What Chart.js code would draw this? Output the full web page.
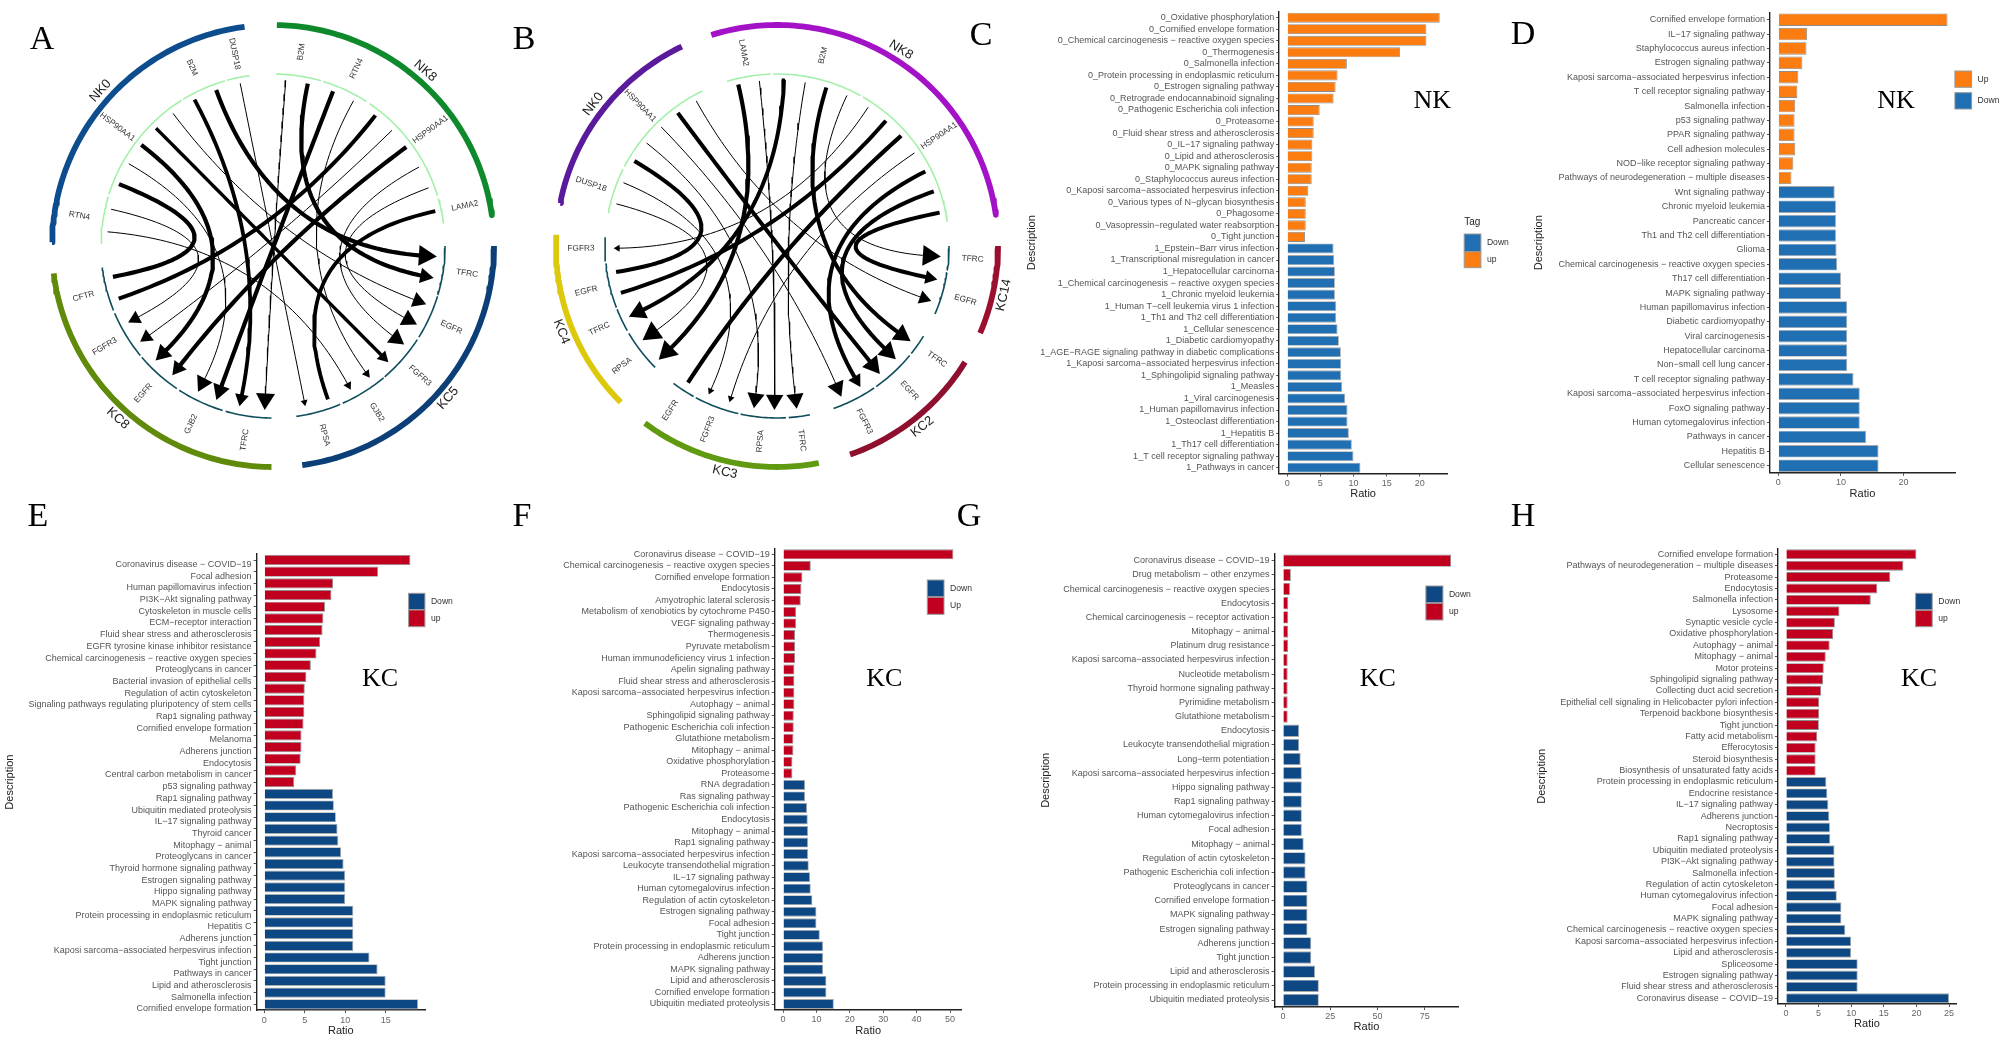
<!DOCTYPE html>
<html><head><meta charset="utf-8">
<script src="https://cdn.jsdelivr.net/npm/chart.js@4"></script>
<style>
html,body{margin:0;padding:0;background:#fff;width:2008px;height:1048px;overflow:hidden}
#page{position:absolute;left:0;top:0;width:2008px;height:1048px;filter:blur(0.45px)}
canvas{position:absolute;display:block}
.letter,.tag{position:absolute;font-family:"Liberation Serif",serif;color:#000;transform:translate(-50%,-50%);line-height:1;white-space:nowrap}
.letter{font-size:34px}.tag{font-size:26px}
</style></head><body><div id="page"></div>
<script>
// ---------- Panel C ----------
const cUpLabels=['0_Oxidative phosphorylation','0_Cornified envelope formation','0_Chemical carcinogenesis − reactive oxygen species','0_Thermogenesis','0_Salmonella infection','0_Protein processing in endoplasmic reticulum','0_Estrogen signaling pathway','0_Retrograde endocannabinoid signaling','0_Pathogenic Escherichia coli infection','0_Proteasome','0_Fluid shear stress and atherosclerosis','0_IL−17 signaling pathway','0_Lipid and atherosclerosis','0_MAPK signaling pathway','0_Staphylococcus aureus infection','0_Kaposi sarcoma−associated herpesvirus infection','0_Various types of N−glycan biosynthesis','0_Phagosome','0_Vasopressin−regulated water reabsorption','0_Tight junction'];
const cUpValues=[23,21,21,17,9,7.6,7.3,7,4.9,4,4,3.8,3.8,3.7,3.7,3.2,2.8,2.8,2.8,2.7];
const cDownLabels=['1_Epstein−Barr virus infection','1_Transcriptional misregulation in cancer','1_Hepatocellular carcinoma','1_Chemical carcinogenesis − reactive oxygen species','1_Chronic myeloid leukemia','1_Human T−cell leukemia virus 1 infection','1_Th1 and Th2 cell differentiation','1_Cellular senescence','1_Diabetic cardiomyopathy','1_AGE−RAGE signaling pathway in diabetic complications','1_Kaposi sarcoma−associated herpesvirus infection','1_Sphingolipid signaling pathway','1_Measles','1_Viral carcinogenesis','1_Human papillomavirus infection','1_Osteoclast differentiation','1_Hepatitis B','1_Th17 cell differentiation','1_T cell receptor signaling pathway','1_Pathways in cancer'];
const cDownValues=[7,7.1,7.2,7.2,7.2,7.4,7.4,7.6,7.8,8.1,8.15,8.15,8.3,8.75,9.1,9.1,9.3,9.75,10,11.05];
const cTicks=[0,5,10,15,20]; const cRange=[-1.2,24.1];
// ---------- Panel D ----------
const dUpLabels=['Cornified envelope formation','IL−17 signaling pathway','Staphylococcus aureus infection','Estrogen signaling pathway','Kaposi sarcoma−associated herpesvirus infection','T cell receptor signaling pathway','Salmonella infection','p53 signaling pathway','PPAR signaling pathway','Cell adhesion molecules','NOD−like receptor signaling pathway','Pathways of neurodegeneration − multiple diseases'];
const dUpValues=[27,4.6,4.5,3.85,3.2,3.05,2.7,2.6,2.6,2.7,2.4,2.1];
const dDownLabels=['Wnt signaling pathway','Chronic myeloid leukemia','Pancreatic cancer','Th1 and Th2 cell differentiation','Glioma','Chemical carcinogenesis − reactive oxygen species','Th17 cell differentiation','MAPK signaling pathway','Human papillomavirus infection','Diabetic cardiomyopathy','Viral carcinogenesis','Hepatocellular carcinoma','Non−small cell lung cancer','T cell receptor signaling pathway','Kaposi sarcoma−associated herpesvirus infection','FoxO signaling pathway','Human cytomegalovirus infection','Pathways in cancer','Hepatitis B','Cellular senescence'];
const dDownValues=[9,9.2,9.2,9.2,9.3,9.4,10,10,11,11,11,11,11,12,13,13,13,14,16,16];
const dTicks=[0,10,20]; const dRange=[-1.34,28.2];
// ---------- Panel E ----------
const eUpLabels=['Coronavirus disease − COVID−19','Focal adhesion','Human papillomavirus infection','PI3K−Akt signaling pathway','Cytoskeleton in muscle cells','ECM−receptor interaction','Fluid shear stress and atherosclerosis','EGFR tyrosine kinase inhibitor resistance','Chemical carcinogenesis − reactive oxygen species','Proteoglycans in cancer','Bacterial invasion of epithelial cells','Regulation of actin cytoskeleton','Signaling pathways regulating pluripotency of stem cells','Rap1 signaling pathway','Cornified envelope formation','Melanoma','Adherens junction','Endocytosis','Central carbon metabolism in cancer','p53 signaling pathway'];
const eUpValues=[18.05,14.05,8.5,8.3,7.5,7.3,7.2,6.9,6.45,5.75,5.2,5,4.95,4.95,4.85,4.6,4.6,4.5,3.95,3.7];
const eDownLabels=['Rap1 signaling pathway','Ubiquitin mediated proteolysis','IL−17 signaling pathway','Thyroid cancer','Mitophagy − animal','Proteoglycans in cancer','Thyroid hormone signaling pathway','Estrogen signaling pathway','Hippo signaling pathway','MAPK signaling pathway','Protein processing in endoplasmic reticulum','Hepatitis C','Adherens junction','Kaposi sarcoma−associated herpesvirus infection','Tight junction','Pathways in cancer','Lipid and atherosclerosis','Salmonella infection','Cornified envelope formation'];
const eDownValues=[8.5,8.6,8.85,9.05,9.15,9.5,9.8,10,10,10,11,11,11,11,13,14,15,15,19];
const eTicks=[0,5,10,15]; const eRange=[-0.95,19.86];
// ---------- Panel F ----------
const fUpLabels=['Coronavirus disease − COVID−19','Chemical carcinogenesis − reactive oxygen species','Cornified envelope formation','Endocytosis','Amyotrophic lateral sclerosis','Metabolism of xenobiotics by cytochrome P450','VEGF signaling pathway','Thermogenesis','Pyruvate metabolism','Human immunodeficiency virus 1 infection','Apelin signaling pathway','Fluid shear stress and atherosclerosis','Kaposi sarcoma−associated herpesvirus infection','Autophagy − animal','Sphingolipid signaling pathway','Pathogenic Escherichia coli infection','Glutathione metabolism','Mitophagy − animal','Oxidative phosphorylation','Proteasome'];
const fUpValues=[51,8.3,5.8,5.5,5.3,3.9,3.9,3.6,3.6,3.6,3.4,3.4,3.4,3.4,3.2,3.2,3.1,3.1,2.8,2.8];
const fDownLabels=['RNA degradation','Ras signaling pathway','Pathogenic Escherichia coli infection','Endocytosis','Mitophagy − animal','Rap1 signaling pathway','Kaposi sarcoma−associated herpesvirus infection','Leukocyte transendothelial migration','IL−17 signaling pathway','Human cytomegalovirus infection','Regulation of actin cytoskeleton','Estrogen signaling pathway','Focal adhesion','Tight junction','Protein processing in endoplasmic reticulum','Adherens junction','MAPK signaling pathway','Lipid and atherosclerosis','Cornified envelope formation','Ubiquitin mediated proteolysis'];
const fDownValues=[6.6,6.6,7.2,7.4,7.5,7.5,7.5,7.7,8.1,8.3,8.8,10,10,11,12,12,12,13,13,15.2];
const fTicks=[0,10,20,30,40,50]; const fRange=[-2.5,53.5];
// ---------- Panel G ----------
const gUpLabels=['Coronavirus disease − COVID−19','Drug metabolism − other enzymes','Chemical carcinogenesis − reactive oxygen species','Endocytosis','Chemical carcinogenesis − receptor activation','Mitophagy − animal','Platinum drug resistance','Kaposi sarcoma−associated herpesvirus infection','Nucleotide metabolism','Thyroid hormone signaling pathway','Pyrimidine metabolism','Glutathione metabolism'];
const gUpValues=[89,4.2,3.7,2.8,2.8,2.8,2.7,2.5,2.5,2.5,2.5,2.5];
const gDownLabels=['Endocytosis','Leukocyte transendothelial migration','Long−term potentiation','Kaposi sarcoma−associated herpesvirus infection','Hippo signaling pathway','Rap1 signaling pathway','Human cytomegalovirus infection','Focal adhesion','Mitophagy − animal','Regulation of actin cytoskeleton','Pathogenic Escherichia coli infection','Proteoglycans in cancer','Cornified envelope formation','MAPK signaling pathway','Estrogen signaling pathway','Adherens junction','Tight junction','Lipid and atherosclerosis','Protein processing in endoplasmic reticulum','Ubiquitin mediated proteolysis'];
const gDownValues=[8.6,8.6,9.4,10,10,10,10,10,11,12,12,13,13,13,13,15,15,17,19,19];
const gTicks=[0,25,50,75]; const gRange=[-4.4,92.8];
// ---------- Panel H ----------
const hUpLabels=['Cornified envelope formation','Pathways of neurodegeneration − multiple diseases','Proteasome','Endocytosis','Salmonella infection','Lysosome','Synaptic vesicle cycle','Oxidative phosphorylation','Autophagy − animal','Mitophagy − animal','Motor proteins','Sphingolipid signaling pathway','Collecting duct acid secretion','Epithelial cell signaling in Helicobacter pylori infection','Terpenoid backbone biosynthesis','Tight junction','Fatty acid metabolism','Efferocytosis','Steroid biosynthesis','Biosynthesis of unsaturated fatty acids'];
const hUpValues=[20,18,16,14,13,8.2,7.5,7.25,6.7,6.1,5.8,5.7,5.4,5.1,5.1,5.05,4.8,4.55,4.55,4.55];
const hDownLabels=['Protein processing in endoplasmic reticulum','Endocrine resistance','IL−17 signaling pathway','Adherens junction','Necroptosis','Rap1 signaling pathway','Ubiquitin mediated proteolysis','PI3K−Akt signaling pathway','Salmonella infection','Regulation of actin cytoskeleton','Human cytomegalovirus infection','Focal adhesion','MAPK signaling pathway','Chemical carcinogenesis − reactive oxygen species','Kaposi sarcoma−associated herpesvirus infection','Lipid and atherosclerosis','Spliceosome','Estrogen signaling pathway','Fluid shear stress and atherosclerosis','Coronavirus disease − COVID−19'];
const hDownValues=[6.2,6.35,6.5,6.65,6.75,6.8,7.45,7.45,7.5,7.5,7.8,8.5,8.5,9.1,10,10,11,11,11,25];
const hTicks=[0,5,10,15,20,25]; const hRange=[-1.23,26.07];

// ---------- Panel A (angles in degrees, clockwise from 12 o'clock) ----------
const aSectorNames=['NK8','KC5','KC8','NK0'];
const aSectorStart=[1,90,180.4,271];
const aSectorEnd=[82,172.4,262.9,352.6];
const aSectorLabelAngle=[41,131,222,312];
const aSegmentStart=[1,17,34.1,74, 90,107,123,140,157, 180.5,197,214,230.5,248, 270.9,287.5,328.5,344.5];
const aSegmentEnd=[16.2,32.9,73,82.3, 106.4,122,139.5,156.1,172.2, 196,213,229.7,247,262.8, 286.7,327.9,343.8,352.2];
const aSegmentIsSource=[1,1,1,1, 0,0,0,0,0, 0,0,0,0,0, 1,1,1,1];
const aGeneNames=['DUSP18','B2M','HSP90AA1','RTN4','B2M','RTN4','HSP90AA1','LAMA2','TFRC','EGFR','FGFR3','GJB2','RPSA','TFRC','GJB2','EGFR','FGFR3','CFTR'];
const aGeneAngles=[348.7,335.6,307.4,278.9,8.3,25.2,53.5,78.2,98,114.5,131.4,148,164.7,188.3,204.7,221.4,239.2,255.1];
const aLinkFrom=[291.9,282.8,274.9,299.7,307.5,315.2,323,331.8,340,348.6,4.4,12.1,21.2,29,38.1,45.8,53.4,61.6,69.5,77.9];
const aLinkTo=[259.1,242.2,151.6,207.2,225.7,135.2,110.8,191.8,93.7,168.6,182.9,101.3,200.2,143.7,251.2,234.2,217.9,126.9,118.6,160.3];
const aLinkWeight=[4.2,1,1,1,4.2,3.4,1,3.8,4.2,1,1,4.2,4.2,1,4,1,4.2,1,1,3.8];
const aLinkHead=[0,8,5,10,10,7,9,8,12,4,11,9,10,5,0,8,9,10,10,0];

// ---------- Panel B ----------
const bSectorNames=['NK8','KC14','KC2','KC3','KC4','NK0'];
const bSectorStart=[342.7,90,121.7,169.1,225,281.2];
const bSectorEnd=[441.9,113.2,160.7,216.7,272.9,334.5];
const bSectorLabelAngle=[32.3,102.2,141.2,193,248.3,307.7];
const bSegmentStart=[281.2,297.5, 343.1,358.7,390, 90,99, 121.6,129.5,145.6, 169,177,193,209, 225.1,240.5,249,265];
const bSegmentEnd=[296.5,334.4, 357.8,389.1,441.9, 98,113.3, 128.7,144.8,160.8, 176.1,192.2,208.2,217, 239.5,248.4,264.2,272.9];
const bSegmentIsSource=[1,1, 1,1,1, 0,0, 0,0,0, 0,0,0,0, 0,0,0,0];
const bGeneNames=['DUSP18','HSP90AA1','LAMA2','B2M','HSP90AA1','TFRC','EGFR','TFRC','EGFR','FGFR3','TFRC','RPSA','FGFR3','EGFR','RPSA','TFRC','EGFR','FGFR3'];
const bGeneAngles=[288.4,315.7,350.2,13.6,55.8,93.8,106,125.3,137.5,153.5,172.7,184.9,200.7,213,232.3,245,256.7,269.3];
const bLinkFrom=[284.7,292.4,300.8,308.3,315.8,323.3,330.9,346.5,353.9,2.4,9.8,17.3,24.9,33.3,41,48.4,55.9,63.3,70.8,78.4];
const bLinkTo=[235,204.7,260.8,188.1,156.9,141.2,109.6,226.1,180.9,244.5,173.1,125.5,93.7,269.2,253.3,213.1,196.9,149.4,133.6,101.8];
const bLinkWeight=[1,1,4,1,1,4,1,4.2,1,4,1,4,1,1,4,4.2,1,4,4,4];
const bLinkHead=[12,4,0,10,10,11,8,12,10,11,10,11,12,4,0,0,4,8,11,8];

// ---------- Styles / layout ----------
const ORANGE='#fb7d12',BLUE='#1f6fb2',RED='#c10020',NAVY='#0e4884';
const SANS='"Liberation Sans",Arial,sans-serif';
const TICK_FONT=9;
const page=document.getElementById('page');
function addText(cls,t,x,y){const d=document.createElement('div');d.className=cls;d.textContent=t;d.style.left=x+'px';d.style.top=y+'px';page.appendChild(d);}
[['A',42,38],['B',524,38],['C',981,34],['D',1523,33],['E',38,515],['F',522,515],['G',969,515],['H',1523,515]].forEach(a=>addText('letter',a[0],a[1],a[2]));
[['NK',1432.3,100],['NK',1896,100],['KC',380,677.7],['KC',884.3,677.7],['KC',1377.7,677.7],['KC',1919,677.7]].forEach(a=>addText('tag',a[0],a[1],a[2]));
function newCanvas(l,t,w,h){const c=document.createElement('canvas');c.width=w;c.height=h;c.style.left=l+'px';c.style.top=t+'px';c.style.width=w+'px';c.style.height=h+'px';page.appendChild(c);return c;}

function barPanel(o){
  const labels=o.upLabels.concat(o.downLabels);
  const nU=o.upValues.length,nD=o.downValues.length,n=nU+nD;
  const step=(o.lastY-o.firstY)/(n-1);
  const plotTop=o.firstY-step/2,plotBottom=o.lastY+step/2;
  const cTop=Math.floor(plotTop-8),cBottom=o.ratioY+6.6;
  const cLeft=o.descX!==null?o.descX-6.6:o.left;
  const w=Math.round(o.right-cLeft),h=Math.round(cBottom-cTop);
  const cv=newCanvas(cLeft,cTop,w,h);
  const upData=o.upValues.concat(new Array(nD).fill(null));
  const downData=new Array(nU).fill(null).concat(o.downValues);
  const legendPlugin={id:'panelLegend',afterDraw(ch){
    const g=ch.ctx;g.save();
    const L=o.legend;
    L.items.forEach(it=>{
      g.fillStyle=it.color;g.strokeStyle='#9a9a9a';g.lineWidth=1;
      g.fillRect(L.x-cLeft,it.y0-cTop,L.w,it.y1-it.y0);
      g.strokeRect(L.x-cLeft,it.y0-cTop,L.w,it.y1-it.y0);
      g.fillStyle='#333';g.font='8.6px '+SANS;g.textBaseline='middle';g.textAlign='left';
      g.fillText(it.text,L.x+L.w+6-cLeft,(it.y0+it.y1)/2-cTop);
    });
    if(L.title){g.fillStyle='#222';g.font='10px '+SANS;g.textAlign='left';g.fillText(L.title,L.x-cLeft,L.titleY-cTop);}
    g.restore();
  }};
  new Chart(cv,{type:'bar',plugins:[legendPlugin],
    data:{labels,datasets:[
      {label:o.upName,data:upData,backgroundColor:o.upColor,borderColor:'#8c8c8c',borderWidth:0.9,barPercentage:0.87,categoryPercentage:1,grouped:false},
      {label:o.downName,data:downData,backgroundColor:o.downColor,borderColor:'#a8a8a8',borderWidth:0.9,barPercentage:0.87,categoryPercentage:1,grouped:false}]},
    options:{indexAxis:'y',responsive:false,animation:false,events:[],devicePixelRatio:1,
      layout:{autoPadding:false,padding:{left:0,bottom:0,top:plotTop-cTop,right:o.right-cLeft-(o.axisR-cLeft)}},
      plugins:{legend:{display:false},tooltip:{enabled:false}},
      scales:{
        y:{type:'category',offset:true,
          afterFit(s){s.width=o.axisX-cLeft;},
          border:{display:true,color:'#222',width:1.4},
          grid:{display:true,offset:false,drawOnChartArea:false,drawTicks:true,tickLength:3,tickColor:'#555',tickWidth:1},
          title:o.descX!==null?{display:true,text:'Description',color:'#222',padding:0,font:{family:SANS,size:11}}:{display:false},
          ticks:{autoSkip:false,maxRotation:0,minRotation:0,padding:2,color:'#555',labelOffset:o.labelOffset||0,font:{family:SANS,size:TICK_FONT}}},
        x:{type:'linear',min:o.range[0],max:o.range[1],
          afterFit(s){s.height=h+cTop-plotBottom;},
          afterBuildTicks(s){s.ticks=o.ticks.map(v=>({value:v}));},
          border:{display:true,color:'#222',width:1.4},
          grid:{display:true,drawOnChartArea:false,drawTicks:true,tickLength:3,tickColor:'#555'},
          title:{display:true,text:'Ratio',color:'#222',padding:0,font:{family:SANS,size:11}},
          ticks:{autoSkip:false,maxRotation:0,padding:1.5,color:'#666',font:{family:SANS,size:9},callback:v=>String(v)}}
      }}});
}

barPanel({upLabels:cUpLabels,upValues:cUpValues,downLabels:cDownLabels,downValues:cDownValues,ticks:cTicks,range:cRange,upName:'up',downName:'Down',upColor:ORANGE,downColor:BLUE,
  firstY:17.7,lastY:467.7,ratioY:494,descX:1031.7,axisX:1279.3,axisR:1447,right:1520,
  legend:{x:1464.3,w:16.7,title:'Tag',titleY:222.7,items:[{text:'Down',color:BLUE,y0:234,y1:251.7},{text:'up',color:ORANGE,y0:251.7,y1:267.7}]}});
barPanel({upLabels:dUpLabels,upValues:dUpValues,downLabels:dDownLabels,downValues:dDownValues,ticks:dTicks,range:dRange,upName:'Up',downName:'Down',upColor:ORANGE,downColor:BLUE,
  firstY:19.7,lastY:465.7,ratioY:494,descX:1539,axisX:1770.3,axisR:1955,right:2008,
  legend:{x:1955.3,w:16.7,items:[{text:'Up',color:ORANGE,y0:71,y1:87.3},{text:'Down',color:BLUE,y0:92.7,y1:109}]}});
barPanel({upLabels:eUpLabels,upValues:eUpValues,downLabels:eDownLabels,downValues:eDownValues,ticks:eTicks,range:eRange,upName:'up',downName:'Down',upColor:RED,downColor:NAVY,labelOffset:4.5,
  firstY:560,lastY:1004.3,ratioY:1031,descX:10,axisX:257,axisR:425,right:500,
  legend:{x:409,w:16.3,items:[{text:'Down',color:NAVY,y0:593.3,y1:609.5},{text:'up',color:RED,y0:610,y1:626.7}]}});
barPanel({upLabels:fUpLabels,upValues:fUpValues,downLabels:fDownLabels,downValues:fDownValues,ticks:fTicks,range:fRange,upName:'Up',downName:'Down',upColor:RED,downColor:NAVY,
  firstY:554.3,lastY:1004,ratioY:1031,descX:null,left:540,axisX:774.7,axisR:961.7,right:1000,
  legend:{x:927.3,w:16.7,items:[{text:'Down',color:NAVY,y0:580,y1:596.7},{text:'Up',color:RED,y0:597.3,y1:614.3}]}});
barPanel({upLabels:gUpLabels,upValues:gUpValues,downLabels:gDownLabels,downValues:gDownValues,ticks:gTicks,range:gRange,upName:'up',downName:'Down',upColor:RED,downColor:NAVY,
  firstY:560.7,lastY:1000,ratioY:1027.7,descX:1045.7,axisX:1274.7,axisR:1458.3,right:1500,
  legend:{x:1426,w:17,items:[{text:'Down',color:NAVY,y0:586,y1:602.7},{text:'up',color:RED,y0:603.3,y1:620}]}});
barPanel({upLabels:hUpLabels,upValues:hUpValues,downLabels:hDownLabels,downValues:hDownValues,ticks:hTicks,range:hRange,upName:'up',downName:'Down',upColor:RED,downColor:NAVY,
  firstY:554.3,lastY:998.3,ratioY:1024.7,descX:1541.7,axisX:1778,axisR:1956,right:2008,
  legend:{x:1915.7,w:16.6,items:[{text:'Down',color:NAVY,y0:593.3,y1:609.7},{text:'up',color:RED,y0:610.3,y1:626.7}]}});

// ---------- Chord panels ----------
const R_OUTER=221,R_SEG=172,R_SRC=166,R_TGT=163,R_GENE=196,R_SECTOR=232;
function polar(r,deg){const a=deg*Math.PI/180;return {x:r*Math.sin(a),y:r*Math.cos(a)};}
function arc(r,a0,a1){const pts=[];const n=Math.max(2,Math.ceil(a1-a0));for(let i=0;i<=n;i++)pts.push(polar(r,a0+(a1-a0)*i/n));return pts;}
function linkPoints(from,to,head){
  const A=polar(R_SRC,from),B=polar(R_TGT-head*0.9,to),pts=[];
  const n=48;
  for(let i=0;i<=n;i++){const t=i/n,u=1-t;pts.push({x:u*u*A.x+t*t*B.x,y:u*u*A.y+t*t*B.y});}
  return pts;
}
function chordPanel(o){
  const half=250;
  const cv=newCanvas(o.cx-half,o.cy-half,half*2,half*2);
  const ds=[];
  const line=(pts,color,width)=>({data:pts,showLine:true,borderColor:color,borderWidth:width,pointRadius:0,borderCapStyle:'butt',tension:0,borderJoinStyle:'round'});
  o.sectorStart.forEach((s,i)=>ds.push(line(arc(R_OUTER,s,o.sectorEnd[i]),o.sectorColors[i],5.8)));
  o.segStart.forEach((s,i)=>ds.push(line(arc(R_SEG,s,o.segEnd[i]),o.segSrc[i]?'#a4f0aa':'#0f4d5c',1.6)));
  o.from.forEach((f,i)=>{
    const pts=linkPoints(f,o.to[i],o.head[i]);const last=pts.length-1;const hd=o.head[i],rot=o.to[i];
    const d=line(pts,'#000',o.weight[i]);
    d.pointStyle='triangle';d.pointBackgroundColor='#000';d.pointBorderColor='#000';d.pointBorderWidth=0;
    d.pointRadius=c=>c.dataIndex===last?hd:0;d.pointRotation=rot;
    ds.push(d);
  });
  const labelPlugin={id:'chordLabels',afterDatasetsDraw(ch){
    const g=ch.ctx,X=ch.scales.x,Y=ch.scales.y;g.save();g.textAlign='center';g.textBaseline='middle';
    const put=(t,r,a,rot,font,col)=>{const p=polar(r,a);g.save();g.translate(X.getPixelForValue(p.x),Y.getPixelForValue(p.y));g.rotate(rot*Math.PI/180);g.font=font;g.fillStyle=col;g.fillText(t,0,0);g.restore();};
    o.genes.forEach((t,i)=>{const a=o.geneAngles[i];put(t,R_GENE,a,a<180?a-90:a-270,'8.3px '+SANS,'#333');});
    o.sectors.forEach((t,i)=>{const a=o.sectorAngles[i];put(t,R_SECTOR,a,(a>90&&a<270)?a-180:(a>=270?a-360:a),'13px '+SANS,'#222');});
    g.restore();
  }};
  new Chart(cv,{type:'scatter',plugins:[labelPlugin],data:{datasets:ds},options:{responsive:false,animation:false,events:[],devicePixelRatio:1,
    layout:{autoPadding:false,padding:0},plugins:{legend:{display:false},tooltip:{enabled:false}},
    scales:{x:{type:'linear',display:false,min:-half,max:half},y:{type:'linear',display:false,min:-half,max:half}}}});
}
chordPanel({cx:273.3,cy:246,sectors:aSectorNames,sectorStart:aSectorStart,sectorEnd:aSectorEnd,sectorAngles:aSectorLabelAngle,
  sectorColors:['#0e8a2c','#0c3f78','#5f8a0a','#0d4d8e'],segStart:aSegmentStart,segEnd:aSegmentEnd,segSrc:aSegmentIsSource,
  genes:aGeneNames,geneAngles:aGeneAngles,from:aLinkFrom,to:aLinkTo,weight:aLinkWeight,head:aLinkHead});
chordPanel({cx:776.7,cy:246,sectors:bSectorNames,sectorStart:bSectorStart,sectorEnd:bSectorEnd,sectorAngles:bSectorLabelAngle,
  sectorColors:['#a412c8','#9a0f2e','#8f0f2e','#5f9a10','#dcc80c','#5a1a9c'],segStart:bSegmentStart,segEnd:bSegmentEnd,segSrc:bSegmentIsSource,
  genes:bGeneNames,geneAngles:bGeneAngles,from:bLinkFrom,to:bLinkTo,weight:bLinkWeight,head:bLinkHead});
</script></body></html>
